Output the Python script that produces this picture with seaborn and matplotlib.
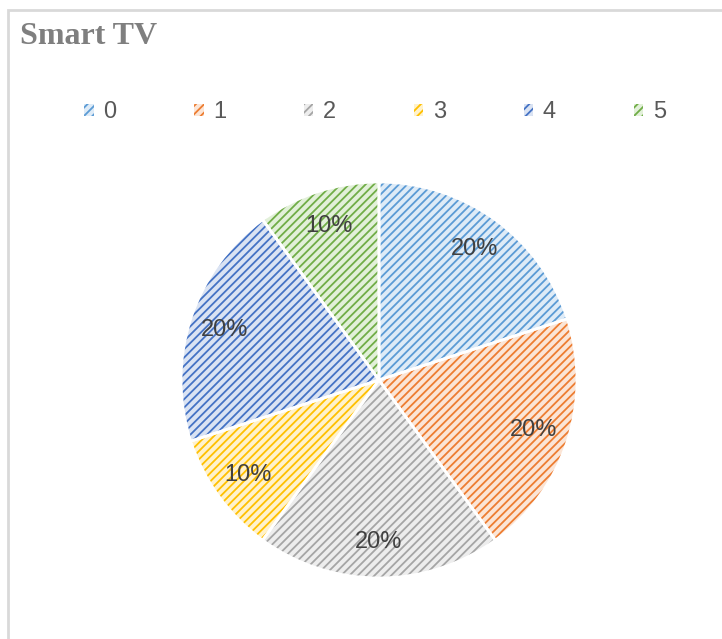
import matplotlib
matplotlib.use("Agg")
import matplotlib.pyplot as plt
import matplotlib.patches as mpatches
import seaborn as sns

# データ
categories = ["0", "1", "2", "3", "4", "5"]
shares = [20, 20, 20, 10, 20, 10]
colors = ["#5B9BD5", "#ED7D31", "#A5A5A5", "#FFC000", "#4472C4", "#70AD47"]
light = ["#DEEBF7", "#FBE5D6", "#EDEDED", "#FFF2CC", "#DAE3F3", "#E2F0D9"]
title = "Smart TV"

sns.set_theme(style="white")
plt.rcParams["font.family"] = ["Liberation Sans", "DejaVu Sans"]
plt.rcParams["hatch.linewidth"] = 1.3

fig = plt.figure(figsize=(7.22, 6.39), dpi=100)
ax = fig.add_axes([181 / 722, 1 - 578 / 639, 396 / 722, 396 / 639])

# 下地
ax.pie(shares, colors=light, startangle=90, counterclock=False,
       wedgeprops=dict(linewidth=0))
# 斜線
wedges, _ = ax.pie(shares, colors=["none"] * 6, startangle=90, counterclock=False,
                   wedgeprops=dict(linewidth=0))
for w, c in zip(wedges, colors):
    w.set_hatch("////")
    w.set_edgecolor(c)
    w.set_facecolor("none")
# 境界線とラベル
ax.pie(shares, colors=["none"] * 6, startangle=90, counterclock=False,
       autopct="%d%%", pctdistance=0.82,
       wedgeprops=dict(linewidth=2, edgecolor="white"),
       textprops=dict(fontsize=17, color="#404040"))
ax.set_aspect("equal")
ax.set_xlim(-1.0, 1.0)
ax.set_ylim(-1.0, 1.0)

fig.text(20 / 722, 1 - 37 / 639, title, fontsize=23, fontweight="bold",
         color="#7F7F7F", family="Liberation Serif", va="center", ha="left")

handles = [mpatches.Patch(facecolor=l, edgecolor=c, hatch="////", linewidth=0)
           for l, c in zip(light, colors)]
fig.legend(handles, categories, loc="center", bbox_to_anchor=(375 / 722, 1 - 112 / 639),
           ncol=6, frameon=False, fontsize=17, handlelength=0.4, handleheight=0.4,
           handletextpad=0.4, columnspacing=3.3, labelcolor="#595959")

fig.patches.append(mpatches.Rectangle((8 / 722, -0.05), 1.0, 1 - 10 / 639 + 0.05,
                                      transform=fig.transFigure, fill=False,
                                      edgecolor="#D9D9D9", linewidth=2))

fig.savefig("out.png", dpi=100)
